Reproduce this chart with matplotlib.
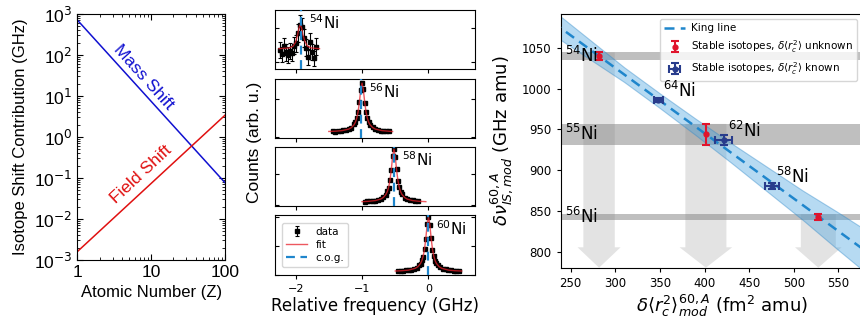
import matplotlib
matplotlib.use('Agg')
import matplotlib.pyplot as plt
import matplotlib.transforms as mtransforms
from matplotlib.ticker import FixedLocator, FixedFormatter

plt.rcParams['font.family'] = 'DejaVu Sans'
plt.rcParams['mathtext.fontset'] = 'dejavusans'

### DATA ###
# left panel: mass / field shift contributions vs Z
Z = [1, 100]
mass_shift = [714, 0.077]
field_shift = [0.0016, 3.4]

# middle panel: spectra (relative frequency in GHz, counts)
ni54_x = [-2.23, -2.20, -2.17, -2.14, -2.11, -2.08, -2.05, -2.02, -1.99, -1.96,
          -1.93, -1.90, -1.87, -1.84, -1.81, -1.78, -1.75, -1.72, -1.69]
ni54_y = [13.5, 12.2, 14.6, 12.8, 12.0, 13.2, 12.5, 14.8, 15.5, 18.5,
          21.0, 20.2, 17.0, 14.2, 11.5, 16.0, 13.0, 11.0, 14.5]
ni54_err = [2.4, 2.3, 2.5, 2.4, 2.3, 2.4, 2.3, 2.5, 2.5, 2.7,
            2.9, 2.8, 2.6, 2.5, 2.3, 2.6, 2.4, 2.3, 2.5]
ni54_fit_x = [-2.25, -2.10, -2.04, -2.00, -1.97, -1.95, -1.93, -1.91, -1.89, -1.86, -1.82, -1.76, -1.64]
ni54_fit_y = [13.9, 14.1, 14.6, 15.8, 18.0, 20.0, 21.0, 20.0, 18.0, 16.0, 14.6, 14.1, 13.9]

ni56_x = [-1.44, -1.40, -1.36, -1.32, -1.28, -1.24, -1.20, -1.16, -1.12,
          -1.10, -1.08, -1.06, -1.04, -1.02, -1.00, -0.98, -0.96, -0.94, -0.92, -0.90,
          -0.88, -0.84, -0.80, -0.76, -0.72, -0.68, -0.64, -0.60]
ni56_y = [152, 139, 158, 147, 176, 170, 214, 238, 330,
          380, 501, 648, 930, 1228, 1432, 1255, 905, 668, 486, 395,
          314, 252, 199, 188, 163, 166, 149, 155]
ni56_err = [12, 12, 13, 12, 13, 13, 15, 15, 18,
            19, 22, 25, 30, 35, 38, 35, 30, 26, 22, 20,
            18, 16, 14, 14, 13, 13, 12, 12]
ni56_fit_x = [-1.50, -1.40, -1.30, -1.20, -1.16, -1.12, -1.10, -1.08, -1.06, -1.04, -1.02, -1.00,
              -0.98, -0.96, -0.94, -0.92, -0.90, -0.88, -0.84, -0.80, -0.70, -0.60, -0.54]
ni56_fit_y = [143, 150, 165, 206, 245, 321, 388, 492, 659, 917, 1242, 1420,
              1242, 917, 659, 492, 388, 321, 245, 206, 165, 150, 141]

ni58_x = [-0.96, -0.92, -0.88, -0.84, -0.80, -0.76, -0.72, -0.68, -0.64,
          -0.62, -0.60, -0.58, -0.56, -0.54, -0.52, -0.50, -0.48, -0.46, -0.44, -0.42, -0.40,
          -0.36, -0.32, -0.28, -0.24, -0.20, -0.16]
ni58_y = [119, 128, 130, 143, 148, 172, 196, 256, 342,
          445, 566, 801, 1110, 1560, 1795, 1532, 1140, 776, 580, 430, 355,
          244, 204, 166, 155, 137, 134]
ni58_err = [11, 11, 11, 12, 12, 13, 14, 16, 18,
            21, 24, 28, 33, 39, 42, 39, 34, 28, 24, 21, 19,
            16, 14, 12, 12, 12, 12]
ni58_fit_x = [-1.00, -0.90, -0.80, -0.72, -0.68, -0.64, -0.62, -0.60, -0.58, -0.56, -0.54, -0.52,
              -0.50, -0.48, -0.46, -0.44, -0.42, -0.40, -0.36, -0.32, -0.24, -0.14, -0.04]
ni58_fit_y = [118, 129, 152, 199, 250, 349, 436, 572, 789, 1125, 1548, 1780,
              1548, 1125, 789, 572, 436, 349, 250, 199, 152, 129, 118]

ni60_x = [-0.46, -0.42, -0.38, -0.34, -0.30, -0.26, -0.22, -0.18, -0.14,
          -0.12, -0.10, -0.08, -0.06, -0.04, -0.02, 0.00, 0.02, 0.04, 0.06, 0.08, 0.10, 0.12,
          0.14, 0.18, 0.22, 0.26, 0.30, 0.34, 0.38, 0.42, 0.46]
ni60_y = [128, 140, 136, 152, 158, 175, 200, 246, 330,
          385, 498, 631, 902, 1250, 1762, 2000, 1735, 1282, 875, 655, 482, 398,
          322, 252, 205, 182, 160, 150, 141, 132, 133]
ni60_err = [11, 12, 12, 12, 13, 13, 14, 16, 18,
            20, 22, 25, 30, 35, 42, 45, 42, 36, 30, 26, 22, 20,
            18, 16, 14, 13, 13, 12, 12, 11, 12]
ni60_fit_x = [-0.50, -0.40, -0.30, -0.20, -0.16, -0.12, -0.10, -0.08, -0.06, -0.04, -0.02, 0.0,
              0.02, 0.04, 0.06, 0.08, 0.10, 0.12, 0.16, 0.20, 0.30, 0.40, 0.50]
ni60_fit_y = [129, 139, 161, 222, 279, 391, 490, 644, 889, 1269, 1748, 2010,
              1748, 1269, 889, 644, 490, 391, 279, 222, 161, 139, 129]

cog = [-1.917, -1.015, -0.514, 0.0]
spec_labels = ['$^{54}$Ni', '$^{56}$Ni', '$^{58}$Ni', '$^{60}$Ni']
spec_ylim = [(7.9, 25.3), (-30, 1530), (-20, 1850), (-10, 2080)]
spec_yticks = [[10, 20], [0, 1000], [0, 1000], [0, 1000, 2000]]

# right panel: King plot
king_x = [230, 630]
king_y = [1081.2, 761.2]
band_x = [230, 270, 310, 350, 390, 430, 470, 510, 550, 590, 630]
band_hi = [1096, 1061, 1026, 994, 963, 933, 904, 875, 848, 820, 792]
band_lo = [1066, 1037, 1008, 976, 943, 909, 874, 839, 802, 766, 730]

unk_labels = ['$^{54}$Ni', '$^{55}$Ni', '$^{56}$Ni']
unk_x = [281.8, 401.5, 527.5]
unk_xerr = [17.6, 23.0, 19.6]
unk_y = [1039.8, 943.8, 842.5]
unk_yerr = [4.5, 12.9, 3.5]

known_labels = ['$^{58}$Ni', '$^{62}$Ni', '$^{64}$Ni']
known_x = [475.6, 421.3, 348.3]
known_xerr = [8.4, 9.4, 5.0]
known_y = [880.5, 936.9, 985.9]
known_yerr = [4.0, 6.0, 2.5]

RED = '#e0142c'
NAVY = '#283c8c'
BLUE = '#1f86cc'

fig = plt.figure(figsize=(8.6, 3.22), dpi=100)

### LEFT PANEL ###
arial = 'Liberation Sans'
ax1 = fig.add_axes([0.0899, 0.1925, 0.1717, 0.764])
ax1.plot(Z, mass_shift, color='#1010d0', lw=1.1)
ax1.plot(Z, field_shift, color='#e01010', lw=1.1)
ax1.set_xscale('log')
ax1.set_yscale('log')
ax1.set_xlim(1, 100)
ax1.set_ylim(1e-3, 1e3)
ax1.xaxis.set_major_locator(FixedLocator([1, 10, 100]))
ax1.xaxis.set_major_formatter(FixedFormatter(['1', '10', '100']))
ax1.set_yticks([1e-3, 1e-2, 1e-1, 1e0, 1e1, 1e2, 1e3])
ax1.set_yticklabels(['10$^{-3}$', '10$^{-2}$', '10$^{-1}$', '10$^{0}$',
                     '10$^{1}$', '10$^{2}$', '10$^{3}$'])
ax1.tick_params(which='both', direction='in', top=True, right=True, labelsize=12.5)
ax1.tick_params(which='major', length=4)
ax1.tick_params(which='minor', length=2)
for lab in ax1.get_xticklabels() + ax1.get_yticklabels():
    lab.set_family(arial)
ax1.set_xlabel('Atomic Number (Z)', family=arial, fontsize=12)
ax1.set_ylabel('Isotope Shift Contribution (GHz)', family=arial, fontsize=12)
ax1.text(7.8, 29, 'Mass Shift', color='#1010d0', rotation=-48, family=arial,
         fontsize=12.5, ha='center', va='center')
ax1.text(7.4, 0.12, 'Field Shift', color='#e01010', rotation=43, family=arial,
         fontsize=12.5, ha='center', va='center')

### MIDDLE PANEL ###
spectra = [(ni54_x, ni54_y, ni54_err, ni54_fit_x, ni54_fit_y),
           (ni56_x, ni56_y, ni56_err, ni56_fit_x, ni56_fit_y),
           (ni58_x, ni58_y, ni58_err, ni58_fit_x, ni58_fit_y),
           (ni60_x, ni60_y, ni60_err, ni60_fit_x, ni60_fit_y)]
panel_px = [(10, 69), (79, 138), (147, 206), (215, 275)]
for i, (x, y, e, fx, fy) in enumerate(spectra):
    top, bot = panel_px[i]
    ax = fig.add_axes([275 / 860, 1 - bot / 322, 200 / 860, (bot - top) / 322])
    h_fit, = ax.plot(fx, fy, color='#e8202a', lw=1.0, alpha=0.75, zorder=3)
    h_dat = ax.errorbar(x, y, yerr=e, fmt='s', ms=2.5, color='k', ecolor='k',
                        elinewidth=0.8, capsize=1.5, capthick=0.8, zorder=2)
    h_cog = ax.axvline(cog[i], color=BLUE, ls=(0, (4, 2.5)), lw=1.6, zorder=4)
    ax.set_xlim(-2.31, 0.70)
    ax.set_ylim(spec_ylim[i])
    ax.set_yticks(spec_yticks[i])
    ax.set_xticks([-2, -1, 0])
    ax.tick_params(axis='y', direction='in', left=True, right=True,
                   labelleft=False, length=3)
    ax.tick_params(axis='x', direction='out', length=3, labelsize=8,
                   labelbottom=(i == 3))
    trans = mtransforms.blended_transform_factory(ax.transData, ax.transAxes)
    ax.text(cog[i] + 0.12, 0.78, spec_labels[i], transform=trans,
            fontsize=11, ha='left', va='center')
    if i == 3:
        ax.legend([h_dat, h_fit, h_cog], ['data', 'fit', 'c.o.g.'],
                  loc='upper left', fontsize=7.5, handlelength=2.0,
                  borderpad=0.4, labelspacing=0.3, bbox_to_anchor=(0.01, 0.96))
        ax.set_xlabel('Relative frequency (GHz)', fontsize=12, labelpad=2)
fig.text(254 / 860, 1 - 142 / 322, 'Counts (arb. u.)', rotation=90,
         family=arial, fontsize=12.5, ha='center', va='center')

### RIGHT PANEL ###
ax3 = fig.add_axes([560.7 / 860, 1 - 267.7 / 322, 322.3 / 860, 253.4 / 322])
ylo, yhi = 780.4, 1091
ax3.set_xlim(238.8, 600)
ax3.set_ylim(ylo, yhi)

for xc, xe, yc, ye in zip(unk_x, unk_xerr, unk_y, unk_yerr):
    ax3.axhspan(yc - ye, yc + ye, color='#808080', alpha=0.5, lw=0, zorder=1)
    ax3.arrow(xc, yc + ye, 0, -(yc + ye - ylo), width=2 * xe, head_width=2 * xe + 13,
              head_length=25, length_includes_head=True, fc='#808080', ec='none',
              alpha=0.22, zorder=1)

ax3.fill_between(band_x, band_lo, band_hi, color='#4aa3df', alpha=0.4,
                 edgecolor='#2a86c8', lw=0.8, zorder=2)
ax3.plot(king_x, king_y, color=BLUE, ls=(0, (4, 2.5)), lw=1.8, zorder=3,
         label='King line')
ax3.errorbar(unk_x, unk_y, yerr=unk_yerr, fmt='o', ms=3.5, color=RED, ecolor=RED,
             elinewidth=1.5, capsize=3, capthick=1.5, zorder=5,
             label=r'Stable isotopes, $\delta\langle r_c^2\rangle$ unknown')
ax3.errorbar(known_x, known_y, xerr=known_xerr, yerr=known_yerr, fmt='o', ms=3.5,
             color=NAVY, ecolor=NAVY, elinewidth=1.5, capsize=3, capthick=1.5,
             zorder=5, label=r'Stable isotopes, $\delta\langle r_c^2\rangle$ known')

for lab, yc in zip(unk_labels, unk_y):
    ax3.text(244, yc, lab, fontsize=12, ha='left', va='center', zorder=6)
for lab, xc, yc in zip(known_labels, known_x, known_y):
    ax3.annotate(lab, (xc, yc), xytext=(3.2, 6.7), textcoords='offset points',
                 fontsize=12, ha='left', va='center', zorder=6)

ax3.set_xticks([250, 300, 350, 400, 450, 500, 550])
ax3.set_yticks([800, 850, 900, 950, 1000, 1050])
ax3.tick_params(labelsize=8.5, length=3)
ax3.set_xlabel(r'$\delta\langle r_c^2\rangle^{60,A}_{mod}$ (fm$^2$ amu)', fontsize=13,
               labelpad=2)
ax3.set_ylabel(r'$\delta\nu^{60,A}_{IS,mod}$ (GHz amu)', fontsize=13, labelpad=4)
ax3.legend(loc='upper left', bbox_to_anchor=(660 / 860, 1 - 19 / 322),
           bbox_transform=fig.transFigure, borderaxespad=0, fontsize=7.5,
           handlelength=2.0, handletextpad=0.6, labelspacing=0.5, framealpha=0.8)

fig.savefig('out.png', dpi=100)
